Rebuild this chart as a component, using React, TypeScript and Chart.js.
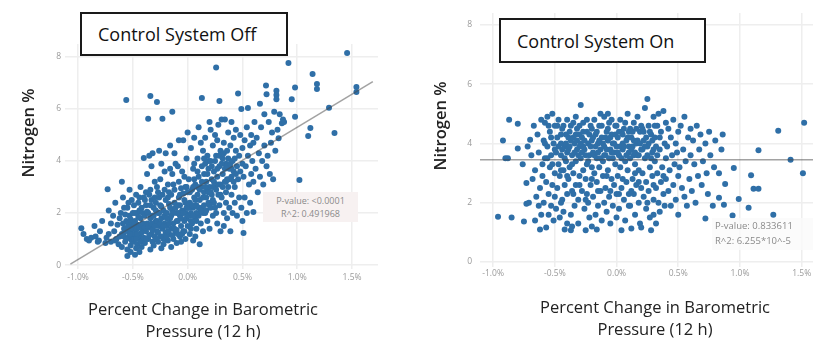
import React, { useEffect, useRef } from 'react';
import { Chart, registerables } from 'chart.js';
Chart.register(...registerables);

// ---------- data ----------
const X_TICKS = [-1.0, -0.5, 0.0, 0.5, 1.0, 1.5];
const X_TICK_LABELS = ['-1.0%', '-0.5%', '0.0%', '0.5%', '1.0%', '1.5%'];
const Y_TICKS = [0, 2, 4, 6, 8];
const Y_TICK_LABELS = ['0', '2', '4', '6', '8'];

const OFF_TITLE = 'Control System Off';
const ON_TITLE = 'Control System On';
const Y_TITLE = 'Nitrogen %';
const X_TITLE = ['Percent Change in Barometric', 'Pressure (12 h)'];
const OFF_STATS = ['P-value: <0.0001', 'R^2: 0.491968'];
const ON_STATS = ['P-value: 0.833611', 'R^2: 6.255*10^-5'];

// Control system OFF: [% change, nitrogen %]
const OFF_POINTS: [number, number][] = [
  [-0.97, 1.42], [-0.95, 1.2], [-0.92, 1.0], [-0.9, 0.95], [-0.88, 1.05],
  [-0.85, 1.5], [-0.84, 1.1], [-0.82, 0.9], [-0.8, 1.3], [-0.81, 0.95],
  [-0.78, 1.7], [-0.75, 0.85], [-0.73, 2.92], [-0.72, 2.1], [-0.72, 1.2], [-0.7, 0.9], [-0.7, 1.6], [-0.74, 1.05],
  [-0.68, 1.9], [-0.67, 1.3], [-0.66, 2.4], [-0.65, 1.0], [-0.64, 1.55], [-0.63, 0.8], [-0.62, 1.8], [-0.61, 2.0],
  [-0.6, 3.2], [-0.6, 1.2], [-0.62, 1.1], [-0.66, 0.95],
  [-0.59, 2.6], [-0.58, 1.4], [-0.57, 0.9], [-0.56, 6.35], [-0.56, 1.7], [-0.55, 2.2], [-0.55, 0.6], [-0.54, 1.05],
  [-0.53, 1.9], [-0.53, 2.9], [-0.52, 1.3], [-0.52, 0.75], [-0.51, 2.5], [-0.51, 1.55], [-0.5, 1.15], [-0.5, 2.0],
  [-0.58, 1.1], [-0.57, 1.95], [-0.54, 1.6], [-0.55, 0.35], [-0.52, 0.5], [-0.5, 0.9],
  [-0.59, 1.6], [-0.58, 2.2], [-0.57, 1.3], [-0.56, 1.0], [-0.55, 1.45], [-0.54, 2.4], [-0.53, 1.2], [-0.52, 1.75],
  [-0.51, 0.95], [-0.5, 1.4], [-0.6, 0.7],
  [-0.49, 2.3], [-0.49, 1.0], [-0.48, 1.7], [-0.48, 0.4], [-0.47, 2.7], [-0.47, 1.35], [-0.46, 0.8], [-0.46, 2.0],
  [-0.45, 1.5], [-0.45, 2.4], [-0.44, 1.1], [-0.44, 0.5], [-0.43, 1.8], [-0.43, 3.0], [-0.42, 1.25], [-0.42, 2.2],
  [-0.41, 0.95], [-0.41, 1.6], [-0.4, 4.12], [-0.4, 2.6], [-0.4, 1.4], [-0.48, 1.2], [-0.46, 1.55], [-0.44, 2.1], [-0.42, 0.7],
  [-0.49, 1.55], [-0.48, 2.0], [-0.47, 1.0], [-0.46, 1.2], [-0.45, 1.85], [-0.44, 1.45], [-0.43, 0.9], [-0.42, 1.55],
  [-0.41, 2.0], [-0.4, 1.05], [-0.47, 0.65], [-0.44, 2.6],
  [-0.39, 1.9], [-0.39, 0.85], [-0.38, 2.3], [-0.38, 1.3], [-0.37, 3.5], [-0.37, 1.6], [-0.36, 5.63], [-0.36, 2.0],
  [-0.36, 1.0], [-0.35, 2.7], [-0.35, 1.45], [-0.34, 6.5], [-0.34, 1.8], [-0.34, 0.6], [-0.33, 2.5], [-0.33, 1.2],
  [-0.32, 4.3], [-0.32, 1.9], [-0.32, 0.9], [-0.31, 2.2], [-0.31, 1.55], [-0.3, 3.2], [-0.3, 1.1], [-0.3, 2.6],
  [-0.38, 2.8], [-0.35, 4.2], [-0.33, 3.8], [-0.31, 0.75],
  [-0.39, 1.45], [-0.38, 1.0], [-0.37, 2.05], [-0.36, 1.5], [-0.35, 1.15], [-0.34, 2.3], [-0.33, 1.6], [-0.32, 1.35],
  [-0.31, 1.9], [-0.3, 1.5], [-0.39, 2.5], [-0.34, 2.9],
  [-0.29, 1.7], [-0.29, 2.4], [-0.28, 6.27], [-0.28, 1.3], [-0.28, 3.0], [-0.27, 2.0], [-0.27, 0.9], [-0.26, 4.4],
  [-0.26, 1.5], [-0.25, 2.3], [-0.25, 1.1], [-0.25, 3.3], [-0.24, 1.8], [-0.24, 0.65], [-0.23, 5.63], [-0.23, 2.7],
  [-0.23, 1.4], [-0.22, 2.1], [-0.22, 1.0], [-0.21, 3.6], [-0.21, 1.6], [-0.2, 2.5], [-0.2, 1.25], [-0.2, 4.3],
  [-0.27, 2.8], [-0.24, 3.9], [-0.22, 0.8], [-0.29, 1.0],
  [-0.29, 2.1], [-0.28, 1.7], [-0.27, 1.25], [-0.26, 2.0], [-0.25, 1.6], [-0.24, 2.25], [-0.23, 1.1], [-0.22, 1.5],
  [-0.21, 1.9], [-0.2, 1.0], [-0.26, 2.6], [-0.21, 2.9],
  [-0.19, 2.0], [-0.19, 1.5], [-0.18, 3.1], [-0.18, 0.95], [-0.17, 2.35], [-0.17, 1.2], [-0.16, 4.6], [-0.16, 1.8],
  [-0.15, 2.7], [-0.15, 1.4], [-0.15, 0.7], [-0.14, 5.9], [-0.14, 2.1], [-0.14, 3.5], [-0.13, 1.6], [-0.13, 1.0],
  [-0.12, 2.9], [-0.12, 2.4], [-0.11, 1.3], [-0.11, 3.9], [-0.1, 2.0], [-0.1, 1.7], [-0.1, 0.85], [-0.18, 2.6],
  [-0.16, 3.7], [-0.12, 4.3], [-0.19, 1.1],
  [-0.19, 1.8], [-0.18, 1.3], [-0.17, 1.6], [-0.16, 2.2], [-0.15, 1.9], [-0.14, 1.15], [-0.13, 2.0], [-0.12, 1.4],
  [-0.11, 2.2], [-0.1, 1.35], [-0.17, 2.8], [-0.13, 3.1],
  [-0.09, 2.3], [-0.09, 1.2], [-0.08, 3.2], [-0.08, 4.8], [-0.07, 1.9], [-0.07, 2.7], [-0.06, 1.5], [-0.06, 0.9],
  [-0.05, 3.6], [-0.05, 2.1], [-0.04, 1.3], [-0.04, 4.8], [-0.03, 2.5], [-0.03, 1.7], [-0.02, 3.0], [-0.02, 1.0],
  [-0.01, 2.2], [-0.01, 4.1], [0.0, 1.5], [0.0, 2.8], [0.0, 5.1], [-0.09, 3.8], [-0.06, 2.95], [-0.03, 3.4],
  [-0.07, 1.1], [-0.02, 2.0],
  [-0.09, 1.7], [-0.08, 2.0], [-0.07, 2.3], [-0.06, 1.8], [-0.05, 1.2], [-0.04, 2.0], [-0.03, 1.3], [-0.02, 2.4],
  [-0.01, 1.8], [0.0, 2.2], [-0.08, 2.6], [-0.04, 2.75], [-0.01, 3.0],
  [0.01, 1.9], [0.01, 3.3], [0.02, 2.4], [0.02, 1.2], [0.03, 4.5], [0.03, 2.0], [0.04, 2.9], [0.04, 1.6],
  [0.05, 3.7], [0.05, 2.2], [0.05, 0.95], [0.06, 2.6], [0.06, 4.9], [0.07, 1.8], [0.07, 3.1], [0.08, 2.3],
  [0.08, 1.4], [0.09, 4.1], [0.09, 2.7], [0.1, 3.4], [0.1, 1.9], [0.1, 5.3], [0.03, 1.4], [0.06, 3.9],
  [0.08, 2.0], [0.11, 0.8],
  [0.01, 2.2], [0.02, 2.8], [0.03, 1.7], [0.04, 2.3], [0.05, 1.9], [0.06, 3.3], [0.07, 2.5], [0.08, 1.7],
  [0.09, 3.0], [0.1, 2.2], [0.05, 3.0], [0.09, 3.6], [0.07, 1.1],
  [0.11, 2.5], [0.12, 3.0], [0.12, 1.6], [0.13, 6.42], [0.13, 3.8], [0.13, 2.2], [0.14, 4.4], [0.14, 1.3],
  [0.15, 2.8], [0.15, 3.5], [0.16, 2.0], [0.16, 4.9], [0.17, 2.6], [0.17, 3.2], [0.18, 1.7], [0.18, 4.2],
  [0.19, 2.4], [0.19, 3.7], [0.2, 3.0], [0.2, 5.5], [0.2, 1.4], [0.14, 2.0], [0.16, 3.9], [0.18, 2.9], [0.12, 4.7],
  [0.11, 2.9], [0.12, 2.1], [0.13, 3.2], [0.14, 2.6], [0.15, 2.3], [0.16, 3.0], [0.17, 2.1], [0.18, 3.5],
  [0.19, 2.8], [0.2, 2.3], [0.15, 4.1], [0.19, 4.0],
  [0.21, 2.2], [0.21, 4.0], [0.22, 3.3], [0.22, 2.7], [0.23, 1.9], [0.23, 4.6], [0.24, 3.6], [0.24, 2.4],
  [0.25, 5.0], [0.25, 3.0], [0.26, 7.6], [0.26, 2.0], [0.26, 4.2], [0.27, 3.4], [0.27, 1.6], [0.28, 2.7],
  [0.28, 5.4], [0.29, 6.31], [0.29, 3.8], [0.29, 2.3], [0.3, 4.4], [0.3, 3.1], [0.3, 1.3], [0.23, 3.0],
  [0.27, 4.8], [0.21, 5.2],
  [0.21, 2.8], [0.22, 3.8], [0.23, 2.5], [0.24, 3.2], [0.25, 4.0], [0.26, 2.9], [0.27, 3.7], [0.28, 3.1],
  [0.29, 4.2], [0.3, 2.7], [0.25, 2.2],
  [0.31, 2.6], [0.31, 5.6], [0.32, 3.5], [0.32, 4.1], [0.33, 2.0], [0.33, 4.7], [0.34, 3.2], [0.34, 5.6],
  [0.35, 2.4], [0.35, 3.9], [0.36, 1.8], [0.36, 4.4], [0.37, 3.0], [0.37, 5.1], [0.38, 3.7], [0.38, 2.2],
  [0.39, 4.6], [0.39, 1.3], [0.4, 3.4], [0.4, 5.5], [0.4, 2.7], [0.33, 1.5], [0.36, 3.3],
  [0.31, 3.9], [0.32, 3.0], [0.33, 4.3], [0.34, 3.7], [0.35, 3.2], [0.36, 3.8], [0.37, 4.1], [0.38, 3.3],
  [0.39, 3.9], [0.4, 3.7], [0.35, 2.8],
  [0.41, 4.0], [0.41, 2.0], [0.42, 3.6], [0.42, 4.9], [0.43, 3.0], [0.43, 2.4], [0.44, 4.4], [0.44, 5.2],
  [0.45, 3.8], [0.45, 1.9], [0.46, 6.6], [0.46, 3.3], [0.47, 4.2], [0.47, 2.6], [0.48, 3.6], [0.48, 5.0],
  [0.49, 6.0], [0.49, 2.2], [0.5, 4.5], [0.5, 3.9], [0.5, 1.7], [0.42, 3.2], [0.43, 4.1], [0.44, 3.5],
  [0.51, 1.23], [0.51, 3.4], [0.52, 4.8], [0.52, 2.6], [0.53, 3.8], [0.54, 5.3], [0.54, 2.0], [0.55, 6.04],
  [0.55, 4.2], [0.56, 3.1], [0.57, 4.6], [0.57, 2.4], [0.58, 3.5], [0.58, 5.0], [0.59, 4.0], [0.6, 2.04],
  [0.6, 4.7], [0.6, 3.2],
  [0.61, 5.5], [0.62, 3.7], [0.63, 4.9], [0.64, 2.8], [0.65, 4.3], [0.66, 6.2], [0.66, 3.4], [0.67, 5.3],
  [0.68, 4.0], [0.69, 3.1], [0.7, 4.6], [0.7, 5.8],
  [0.715, 6.9], [0.72, 6.57], [0.72, 3.8], [0.73, 4.2], [0.74, 5.5], [0.75, 3.5], [0.76, 4.7], [0.77, 5.1],
  [0.78, 3.3], [0.79, 5.9], [0.8, 4.4],
  [0.81, 6.7], [0.81, 6.54], [0.81, 6.38], [0.82, 5.2], [0.83, 4.88], [0.84, 5.8], [0.86, 5.45], [0.87, 5.6], [0.88, 5.5],
  [0.92, 7.77], [0.95, 6.38], [0.98, 6.83], [0.98, 5.7], [1.02, 3.27], [1.12, 5.27], [1.1, 4.96], [1.14, 7.35],
  [1.18, 6.96], [1.18, 6.77], [1.29, 6.05], [1.34, 5.08], [1.455, 8.15], [1.54, 6.85], [1.54, 6.65],
];

// Control system ON: [% change, nitrogen %]
const ON_POINTS: [number, number][] = [
  [-0.96, 1.53], [-0.92, 4.1], [-0.9, 3.5], [-0.88, 3.5], [-0.87, 4.8], [-0.85, 1.5], [-0.8, 4.67], [-0.8, 3.83],
  [-0.76, 3.3], [-0.75, 1.37], [-0.73, 2.67], [-0.73, 1.97], [-0.7, 4.13], [-0.72, 3.9], [-0.71, 2.0],
  [-0.69, 3.6], [-0.68, 2.8], [-0.67, 4.6], [-0.66, 1.4], [-0.66, 3.1], [-0.65, 2.2], [-0.64, 4.3], [-0.63, 1.9],
  [-0.63, 3.7], [-0.62, 2.5], [-0.61, 4.8], [-0.61, 1.6], [-0.6, 3.3], [-0.6, 2.9], [-0.62, 1.1],
  [-0.59, 4.1], [-0.59, 2.0], [-0.58, 4.7], [-0.58, 3.5], [-0.57, 1.17], [-0.57, 2.7], [-0.56, 3.9], [-0.56, 4.9],
  [-0.55, 2.3], [-0.55, 1.6], [-0.54, 3.2], [-0.54, 4.4], [-0.53, 1.9], [-0.53, 3.6], [-0.52, 2.6], [-0.52, 5.0],
  [-0.51, 4.0], [-0.51, 1.4], [-0.5, 3.0], [-0.5, 2.2], [-0.5, 4.6],
  [-0.55, 4.6], [-0.53, 4.2], [-0.5, 3.8], [-0.56, 3.5], [-0.52, 3.3], [-0.58, 4.0],
  [-0.49, 3.7], [-0.49, 1.8], [-0.48, 4.2], [-0.48, 2.5], [-0.47, 3.3], [-0.47, 4.8], [-0.46, 1.5], [-0.46, 2.9],
  [-0.45, 4.0], [-0.45, 3.6], [-0.44, 2.1], [-0.44, 4.5], [-0.43, 3.1], [-0.43, 1.7], [-0.42, 3.9], [-0.42, 2.6],
  [-0.41, 4.3], [-0.41, 3.4], [-0.4, 1.3], [-0.4, 2.3], [-0.4, 4.8], [-0.45, 2.0], [-0.42, 1.1],
  [-0.48, 4.6], [-0.47, 3.9], [-0.45, 4.3], [-0.44, 3.8], [-0.43, 4.6], [-0.42, 3.5], [-0.41, 4.0], [-0.4, 3.7],
  [-0.4, 2.9], [-0.45, 3.1],
  [-0.39, 3.8], [-0.39, 2.8], [-0.38, 4.4], [-0.38, 3.2], [-0.37, 1.07], [-0.37, 1.6], [-0.37, 4.1], [-0.36, 2.4],
  [-0.36, 3.6], [-0.35, 4.7], [-0.35, 3.0], [-0.34, 1.9], [-0.34, 4.0], [-0.33, 3.4], [-0.33, 2.6], [-0.32, 4.5],
  [-0.32, 3.8], [-0.31, 2.1], [-0.31, 1.3], [-0.3, 3.9], [-0.3, 4.3], [-0.3, 2.9], [-0.36, 1.2], [-0.33, 4.9],
  [-0.39, 4.2], [-0.38, 3.9], [-0.37, 4.6], [-0.36, 3.3], [-0.35, 4.2], [-0.34, 3.7], [-0.33, 4.3], [-0.32, 4.1],
  [-0.31, 3.6], [-0.3, 4.6], [-0.35, 2.3], [-0.3, 2.6],
  [-0.29, 5.3], [-0.29, 3.5], [-0.28, 2.4], [-0.28, 4.2], [-0.27, 3.1], [-0.27, 4.7], [-0.26, 1.8], [-0.26, 3.8],
  [-0.25, 1.07], [-0.25, 2.8], [-0.24, 4.4], [-0.24, 3.3], [-0.23, 2.0], [-0.23, 4.0], [-0.22, 3.6], [-0.22, 1.5],
  [-0.21, 4.6], [-0.21, 2.6], [-0.2, 3.2], [-0.2, 4.1], [-0.2, 1.2], [-0.27, 3.9], [-0.24, 2.3],
  [-0.29, 4.0], [-0.28, 3.7], [-0.27, 4.4], [-0.26, 4.1], [-0.25, 3.6], [-0.24, 4.8], [-0.23, 3.4], [-0.22, 4.3],
  [-0.21, 3.9], [-0.2, 4.5], [-0.25, 2.1], [-0.2, 2.8],
  [-0.19, 3.7], [-0.19, 2.2], [-0.18, 4.8], [-0.18, 3.0], [-0.17, 1.6], [-0.17, 4.3], [-0.16, 2.7], [-0.16, 3.5],
  [-0.15, 4.0], [-0.15, 1.9], [-0.14, 3.2], [-0.14, 4.6], [-0.13, 2.4], [-0.13, 3.8], [-0.12, 1.4], [-0.12, 4.2],
  [-0.11, 2.9], [-0.11, 3.4], [-0.1, 4.9], [-0.1, 2.0], [-0.1, 3.9], [-0.16, 1.1], [-0.13, 5.0],
  [-0.19, 4.2], [-0.18, 3.6], [-0.17, 3.9], [-0.16, 4.4], [-0.15, 3.7], [-0.14, 4.1], [-0.13, 3.5], [-0.12, 4.6],
  [-0.11, 4.0], [-0.1, 3.6], [-0.15, 2.4],
  [-0.09, 3.6], [-0.09, 2.5], [-0.08, 4.4], [-0.08, 1.7], [-0.07, 3.1], [-0.07, 4.1], [-0.06, 2.2], [-0.06, 4.7],
  [-0.05, 3.8], [-0.05, 1.3], [-0.04, 2.8], [-0.04, 4.3], [-0.03, 3.5], [-0.03, 1.9], [-0.02, 4.0], [-0.02, 2.6],
  [-0.01, 3.3], [-0.01, 4.6], [0.0, 2.3], [0.0, 3.9], [0.0, 1.5], [-0.07, 5.0], [-0.04, 3.7],
  [-0.09, 4.2], [-0.08, 3.8], [-0.07, 4.5], [-0.06, 3.5], [-0.05, 4.2], [-0.04, 4.8], [-0.03, 4.0], [-0.02, 3.7],
  [-0.01, 4.3], [0.0, 4.6], [-0.08, 2.9], [-0.05, 2.4],
  [0.01, 4.2], [0.01, 2.9], [0.02, 3.6], [0.02, 1.8], [0.03, 4.8], [0.03, 3.2], [0.04, 1.07], [0.04, 2.5],
  [0.05, 4.0], [0.05, 3.8], [0.06, 2.1], [0.06, 4.5], [0.07, 3.4], [0.07, 1.4], [0.08, 2.7], [0.08, 4.1],
  [0.09, 5.0], [0.09, 3.1], [0.1, 2.3], [0.1, 3.7], [0.1, 4.4], [0.04, 4.4],
  [0.01, 3.7], [0.02, 4.4], [0.03, 3.9], [0.04, 3.5], [0.05, 4.3], [0.06, 3.9], [0.07, 4.7], [0.08, 3.6],
  [0.09, 4.2], [0.1, 3.9], [0.05, 2.8], [0.02, 2.3], [0.1, 1.9],
  [0.11, 1.9], [0.11, 3.5], [0.12, 1.13], [0.12, 4.2], [0.13, 2.8], [0.13, 3.9], [0.14, 4.7], [0.14, 2.3],
  [0.15, 3.3], [0.15, 1.6], [0.16, 4.0], [0.16, 2.6], [0.17, 3.6], [0.17, 4.9], [0.18, 2.0], [0.18, 3.1],
  [0.19, 4.4], [0.19, 1.3], [0.2, 1.17], [0.2, 3.8], [0.2, 2.5], [0.14, 3.6],
  [0.11, 4.5], [0.12, 3.8], [0.13, 4.4], [0.14, 4.1], [0.15, 3.7], [0.16, 4.5], [0.17, 4.1], [0.18, 3.6],
  [0.19, 4.0], [0.2, 4.6], [0.12, 2.4], [0.18, 2.7], [0.15, 3.0],
  [0.21, 4.5], [0.21, 3.0], [0.22, 2.2], [0.22, 4.1], [0.23, 5.2], [0.23, 3.5], [0.24, 1.8], [0.24, 2.7],
  [0.25, 5.5], [0.25, 3.9], [0.26, 4.6], [0.26, 2.4], [0.27, 3.2], [0.27, 1.5], [0.28, 1.07], [0.28, 4.3],
  [0.29, 2.9], [0.29, 3.7], [0.3, 4.9], [0.3, 2.1], [0.3, 1.6],
  [0.21, 3.8], [0.22, 4.4], [0.23, 3.9], [0.24, 4.2], [0.25, 3.6], [0.26, 4.0], [0.27, 4.4], [0.28, 3.5],
  [0.29, 4.1], [0.3, 3.8], [0.25, 2.0], [0.3, 2.6],
  [0.31, 3.4], [0.31, 4.2], [0.32, 2.5], [0.32, 1.3], [0.33, 4.6], [0.33, 3.0], [0.34, 5.0], [0.34, 2.0],
  [0.35, 3.8], [0.35, 1.7], [0.36, 4.4], [0.36, 2.7], [0.37, 3.2], [0.38, 5.1], [0.38, 2.3], [0.39, 4.0],
  [0.39, 1.9], [0.4, 3.5], [0.4, 4.7], [0.4, 2.8],
  [0.31, 4.6], [0.32, 3.9], [0.33, 3.6], [0.35, 4.2], [0.38, 2.9],
  [0.41, 3.9], [0.42, 2.4], [0.42, 4.5], [0.43, 3.1], [0.44, 1.9], [0.44, 4.2], [0.45, 3.6], [0.46, 2.6],
  [0.46, 4.8], [0.47, 3.3], [0.48, 2.1], [0.48, 4.0], [0.49, 3.7], [0.5, 2.9], [0.5, 4.4], [0.5, 1.6],
  [0.51, 3.2], [0.52, 4.6], [0.53, 2.5], [0.54, 3.8], [0.55, 2.2], [0.55, 4.9], [0.56, 3.4], [0.57, 1.9],
  [0.58, 4.2], [0.59, 2.8], [0.6, 3.6], [0.6, 4.5],
  [0.61, 2.4], [0.62, 4.1], [0.63, 3.3], [0.64, 2.0], [0.65, 4.6], [0.66, 2.9], [0.67, 3.8], [0.68, 4.3],
  [0.69, 2.6], [0.7, 3.4],
  [0.72, 1.47], [0.72, 4.0], [0.73, 3.0], [0.74, 2.3], [0.75, 4.4], [0.76, 3.6], [0.78, 1.9], [0.79, 3.2], [0.8, 4.1],
  [0.83, 2.17], [0.83, 3.0], [0.85, 3.8], [0.86, 4.3], [0.87, 1.93], [0.88, 2.63], [0.94, 1.57], [0.95, 3.17],
  [0.99, 2.13], [1.07, 1.83], [1.09, 2.93], [1.11, 2.47], [1.15, 2.47], [1.15, 3.77], [1.27, 1.6], [1.31, 4.43],
  [1.41, 3.45], [1.51, 3.0], [1.52, 4.7],
];

// regression line end points
const OFF_FIT: [number, number][] = [[-1.07, 0.04], [1.69, 7.05]];
const ON_FIT: [number, number][] = [[-1.2, 3.45], [2.0, 3.45]];

// ---------- styling ----------
const FONT = "'Open Sans', 'Noto Sans', sans-serif";
const DOT = '#2f6fa7';
const TICK_COLOR = '#9a9a9a';
const GRID = '#eeeeee';

type PanelProps = {
  points: [number, number][];
  fit: [number, number][];
  canvas: { left: number; top: number; width: number; height: number };
  area: { left: number; top: number; right: number; bottom: number };
  xMin: number; xMax: number; yMin: number; yMax: number;
  yPad: number; xPad: number;
};

const Y_AXIS_W = 30;
const X_AXIS_H = 20;

function ScatterPanel(p: PanelProps) {
  const ref = useRef<HTMLCanvasElement | null>(null);
  useEffect(() => {
    const c = ref.current;
    if (!c) return;
    const pad = {
      left: p.area.left - p.canvas.left - Y_AXIS_W,
      top: p.area.top - p.canvas.top,
      right: p.canvas.left + p.canvas.width - p.area.right,
      bottom: p.canvas.top + p.canvas.height - p.area.bottom - X_AXIS_H,
    };
    const chart = new Chart(c, {
      type: 'scatter',
      data: {
        datasets: [
          {
            type: 'line',
            data: p.fit.map(([x, y]) => ({ x, y })),
            borderColor: 'rgba(70,70,70,0.5)',
            borderWidth: 1.5,
            pointRadius: 0,
            fill: false,
            order: 0,
          } as any,
          {
            data: p.points.map(([x, y]) => ({ x, y })),
            backgroundColor: DOT,
            borderColor: DOT,
            borderWidth: 0,
            pointRadius: 3,
            order: 1,
          },
        ],
      },
      options: {
        responsive: false,
        animation: false,
        maintainAspectRatio: false,
        layout: { padding: pad },
        plugins: { legend: { display: false }, tooltip: { enabled: false } },
        scales: {
          x: {
            type: 'linear',
            min: p.xMin,
            max: p.xMax,
            afterFit: (s: any) => { s.height = X_AXIS_H; },
            afterBuildTicks: (s: any) => { s.ticks = X_TICKS.map((v) => ({ value: v })); },
            border: { display: false },
            grid: { color: GRID, lineWidth: 1.5, drawTicks: false },
            ticks: {
              padding: p.xPad,
              color: TICK_COLOR,
              font: { family: FONT, size: 8.5 },
              maxRotation: 0,
              autoSkip: false,
              callback: (v: any) => X_TICK_LABELS[X_TICKS.indexOf(Number(v))] ?? '',
            },
          },
          y: {
            type: 'linear',
            min: p.yMin,
            max: p.yMax,
            afterFit: (s: any) => { s.width = Y_AXIS_W; },
            afterBuildTicks: (s: any) => { s.ticks = Y_TICKS.map((v) => ({ value: v })); },
            border: { display: false },
            grid: { color: GRID, lineWidth: 1.5, drawTicks: false },
            ticks: {
              padding: p.yPad,
              color: TICK_COLOR,
              font: { family: FONT, size: 8.5 },
              autoSkip: false,
              callback: (v: any) => Y_TICK_LABELS[Y_TICKS.indexOf(Number(v))] ?? '',
            },
          },
        },
      },
    });
    return () => chart.destroy();
  }, []);
  return (
    <canvas
      ref={ref}
      width={p.canvas.width}
      height={p.canvas.height}
      style={{ position: 'absolute', left: p.canvas.left, top: p.canvas.top, width: p.canvas.width, height: p.canvas.height }}
    />
  );
}

const abs = (s: React.CSSProperties): React.CSSProperties => ({ position: 'absolute', ...s });

function TitleBox({ text, left, top, width, height }: { text: string; left: number; top: number; width: number; height: number }) {
  return (
    <div style={abs({ left, top, width, height, boxSizing: 'border-box', border: '2px solid #1a1a1a', background: '#fff', display: 'flex', alignItems: 'center', paddingLeft: 16, fontFamily: FONT, fontSize: 18, color: '#111', whiteSpace: 'nowrap' })}>
      {text}
    </div>
  );
}

function YTitle({ cx, cy }: { cx: number; cy: number }) {
  return (
    <div style={abs({ left: cx - 60, top: cy - 12, width: 120, height: 24, lineHeight: '24px', textAlign: 'center', transform: 'rotate(-90deg)', fontFamily: FONT, fontSize: 16.5, fontWeight: 600, color: '#222', whiteSpace: 'nowrap' })}>
      {Y_TITLE}
    </div>
  );
}

function XTitle({ cx, top }: { cx: number; top: number }) {
  return (
    <div style={abs({ left: cx - 150, top, width: 300, textAlign: 'center', fontFamily: FONT, fontSize: 16.5, lineHeight: '22px', color: '#222', whiteSpace: 'nowrap' })}>
      {X_TITLE.map((t) => <div key={t}>{t}</div>)}
    </div>
  );
}

export default function App() {
  useEffect(() => {
    document.body.style.margin = '0';
  }, []);
  return (
    <div style={{ position: 'relative', width: 813, height: 342, overflow: 'hidden', background: '#fff' }}>
      <ScatterPanel
        points={OFF_POINTS}
        fit={OFF_FIT}
        canvas={{ left: 0, top: 0, width: 400, height: 342 }}
        area={{ left: 65, top: 44, right: 378, bottom: 269 }}
        xMin={-1.119} xMax={1.737} yMin={-0.15} yMax={8.5}
        yPad={4} xPad={3}
      />
      <ScatterPanel
        points={ON_POINTS}
        fit={ON_FIT}
        canvas={{ left: 410, top: 0, width: 440, height: 342 }}
        area={{ left: 480, top: 10, right: 850, bottom: 266.5 }}
        xMin={-1.106} xMax={1.859} yMin={-0.15} yMax={8.4}
        yPad={8} xPad={2}
      />
      <TitleBox text={OFF_TITLE} left={80} top={12} width={208} height={44} />
      <TitleBox text={ON_TITLE} left={499} top={18} width={207} height={45} />
      <YTitle cx={28} cy={133} />
      <YTitle cx={440} cy={126} />
      <XTitle cx={203} top={298} />
      <XTitle cx={655} top={296} />
      <div style={abs({ left: 263, top: 192, width: 95, height: 30, background: '#f7f1f1', fontFamily: FONT, fontSize: 9, lineHeight: '13px', color: '#8a8a8a', textAlign: 'center', paddingTop: 2, boxSizing: 'border-box' })}>
        {OFF_STATS.map((t) => <div key={t}>{t}</div>)}
      </div>
      <div style={abs({ left: 712, top: 218, width: 101, height: 32, background: 'rgba(250,250,250,0.8)', fontFamily: FONT, fontSize: 9.5, lineHeight: '15px', color: '#8a8a8a', paddingLeft: 3, boxSizing: 'border-box', whiteSpace: 'nowrap' })}>
        {ON_STATS.map((t) => <div key={t}>{t}</div>)}
      </div>
    </div>
  );
}
